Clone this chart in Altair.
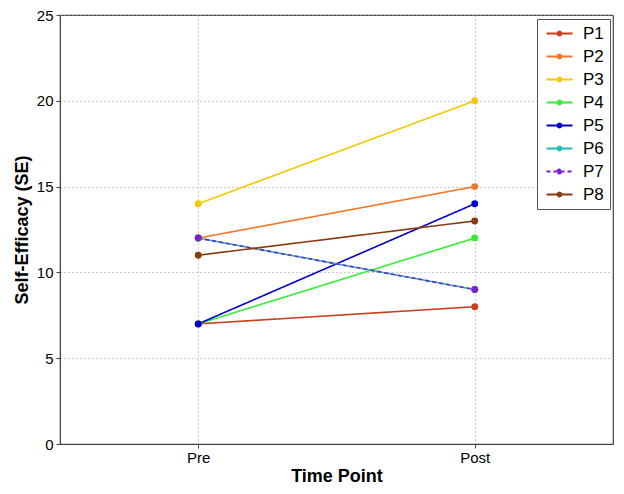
import altair as alt
import pandas as pd

participants = ["P1", "P2", "P3", "P4", "P5", "P6", "P7", "P8"]
pre_values = [7, 12, 14, 7, 7, 12, 12, 11]
post_values = [8, 15, 20, 12, 14, 9, 9, 13]
time_labels = ["Pre", "Post"]
colors = ["#c8401e", "#f07828", "#f5c800", "#33ee33", "#0000cc", "#22bbbb", "#7722cc", "#8b3a10"]
dashes = [[1, 0], [1, 0], [1, 0], [1, 0], [1, 0], [1, 0], [4, 3], [1, 0]]

rows = []
for i, p in enumerate(participants):
    rows.append({"participant": p, "t": 1, "se": pre_values[i], "order": i})
    rows.append({"participant": p, "t": 2, "se": post_values[i], "order": i})
df = pd.DataFrame(rows)

FONT = "Liberation Sans"
legend_path = ("M-2,0H2M-0.3,0A0.3,0.3,0,1,1,0.3,0A0.3,0.3,0,1,1,-0.3,0Z"
               "M-0.15,0A0.15,0.15,0,1,1,0.15,0A0.15,0.15,0,1,1,-0.15,0Z")

leg = alt.Legend(
    title=None, orient="none", legendX=477, legendY=4,
    symbolType=legend_path, symbolSize=169, symbolStrokeWidth=2,
    symbolOffset=8,
    labelFont=FONT, labelFontSize=17, labelColor="black",
    strokeColor="#555555", fillColor="white", padding=6, rowPadding=5,
    labelOffset=15,
)

base = alt.Chart(df)
lines = base.mark_line(strokeWidth=1.6, point=alt.OverlayMarkDef(filled=True, size=48, opacity=1)).encode(
    x=alt.X("t:Q", scale=alt.Scale(domain=[0.5, 2.5], nice=False),
            axis=alt.Axis(values=[1, 2], labelExpr="datum.value == 1 ? 'Pre' : 'Post'",
                          title="Time Point", grid=True)),
    y=alt.Y("se:Q", scale=alt.Scale(domain=[0, 25], nice=False),
            axis=alt.Axis(values=[0, 5, 10, 15, 20, 25], title="Self-Efficacy (SE)", grid=True)),
    color=alt.Color("participant:N", scale=alt.Scale(domain=participants, range=colors), legend=leg),
    strokeDash=alt.StrokeDash("participant:N", scale=alt.Scale(domain=participants, range=dashes), legend=leg),
    order="order:Q",
    detail="participant:N",
)

chart = lines.properties(
    width=553, height=429,
    autosize=alt.AutoSizeParams(type="none"),
    padding={"left": 52, "top": 7, "right": 3, "bottom": 42},
).configure_view(
    stroke="#444444", strokeWidth=1.2,
).configure_axis(
    domainColor="#444444", tickColor="#444444", tickSize=4,
    labelFont=FONT, labelFontSize=15, labelColor="black",
    titleFont=FONT, titleFontSize=18, titleFontWeight="bold", titleColor="black",
    gridColor="#999999", gridDash=[1, 3], gridOpacity=1, gridWidth=1,
).configure_axisX(
    labelPadding=2, titlePadding=2,
).configure_axisY(
    labelPadding=3, titlePadding=5,
)

chart.save("out.html", embed_options={"renderer": "svg", "actions": False})
